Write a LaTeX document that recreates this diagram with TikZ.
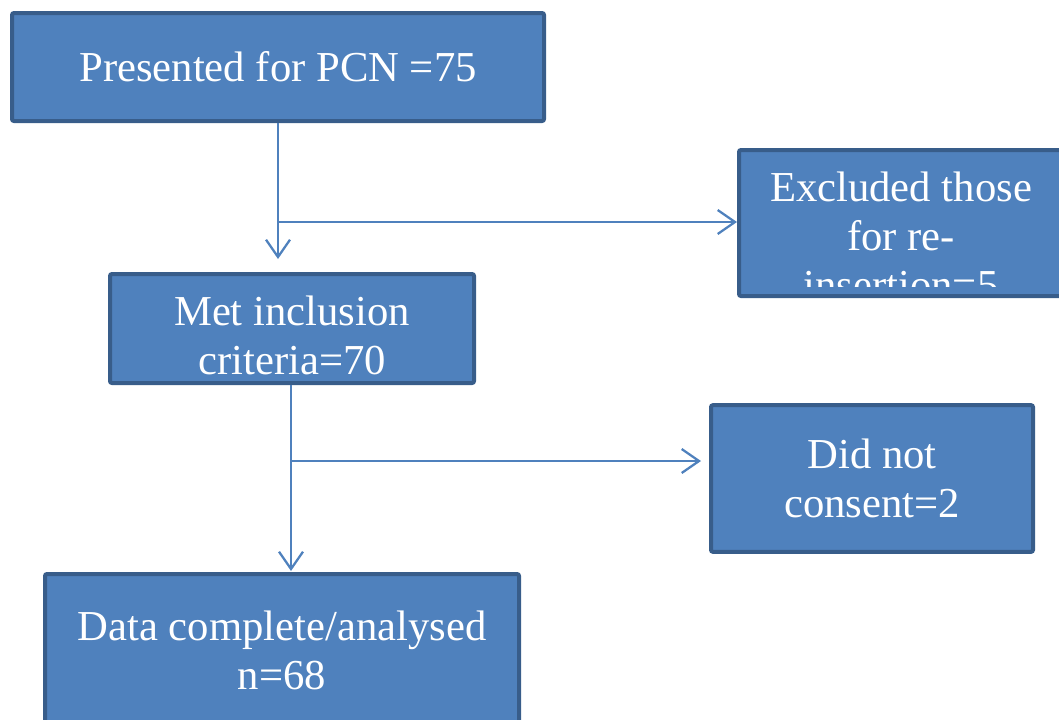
\documentclass[tikz,border=0pt]{standalone}
\usepackage{fontspec}
\setmainfont{Liberation Serif}
\usetikzlibrary{arrows.meta}
\definecolor{boxfill}{HTML}{4F81BD}
\definecolor{boxline}{HTML}{385D8A}
\begin{document}
\begin{tikzpicture}[x=0.75pt, y=-0.75pt,
        flowbox/.style={draw=boxline, fill=boxfill, line width=3pt, rounded corners=1.5pt,
            text=white, align=center, inner sep=0pt,
            font=\fontsize{32}{36.8}\selectfont},
        flowline/.style={draw=boxfill, line width=1.7pt},
        flowarrow/.style={flowline, -{Straight Barb[length=13pt, width=18pt, line width=1.7pt]}}]
            \clip (0,0) rectangle (1059,719);
            \node[flowbox, minimum width=399pt, minimum height=81pt] (pcn) at (278,67) {Presented for PCN =75};
            \node[flowbox, minimum width=243pt, minimum height=109.5pt] (excl) at (901,223) {};
            \begin{scope}
                \clip (740,152) rectangle (1059,286);
                \node[text=white, align=center, inner sep=0pt, font=\fontsize{32}{36.8}\selectfont]
                    (excltext) at (901,236) {Excluded those\\for re-\\insertion=5};
            \end{scope}
            \node[flowbox, minimum width=273pt, minimum height=81.75pt, text height=69pt] (incl) at (292,328.5) {Met inclusion\\criteria=70};
            \node[flowbox, minimum width=241.5pt, minimum height=110pt] (noconsent) at (872,478.5) {Did not\\consent=2};
            \node[flowbox, minimum width=355.5pt, minimum height=114pt] (data) at (282,650) {Data complete/analysed\\n=68};
            % connectors
            \coordinate (tipa) at (278,259);
            \coordinate (forka) at (278,222);
            \coordinate (tipb) at (291,571);
            \coordinate (forkb) at (291,461);
            \draw[flowarrow] (pcn.south -| tipa) -- (tipa);
            \draw[flowarrow] (forka) -- (forka -| excl.west);
            \draw[flowarrow] (incl.south -| tipb) -- (tipb);
            \draw[flowarrow] (forkb) -- ([xshift=-6pt]forkb -| noconsent.west);
\end{tikzpicture}
\end{document}
